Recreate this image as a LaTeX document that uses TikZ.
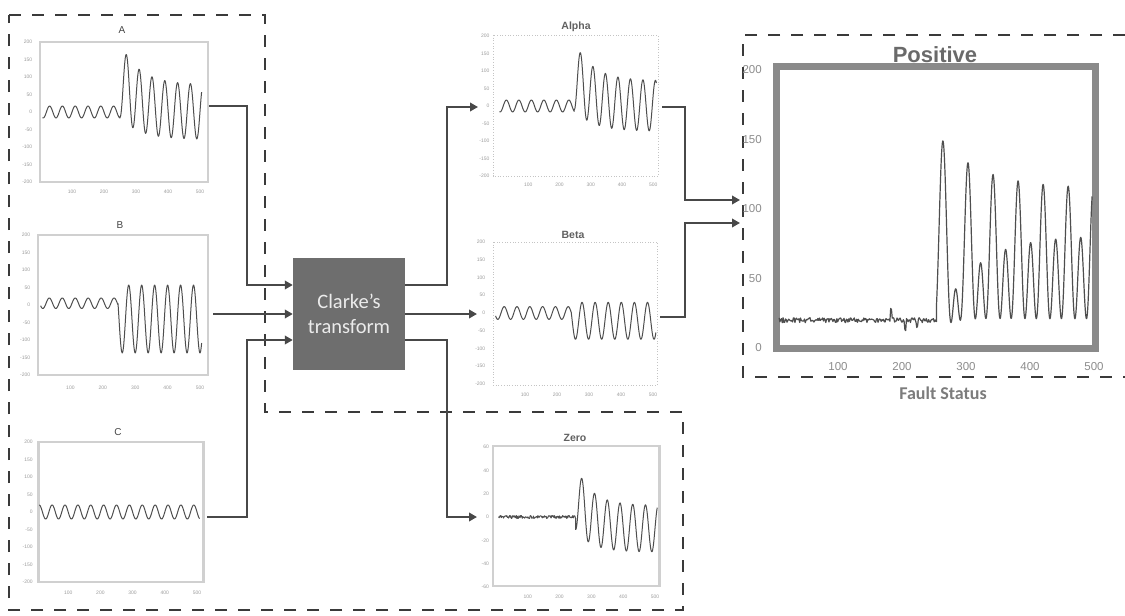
\documentclass[tikz,border=0pt]{standalone}
\usepackage{fontspec}
\setmainfont{Liberation Sans}
\newfontfamily\calib{Carlito}
\usetikzlibrary{arrows.meta}
\definecolor{dashc}{HTML}{3A3A3A}
\definecolor{arrc}{HTML}{484848}
\definecolor{sigc}{HTML}{4E4E4E}
\definecolor{framec}{HTML}{D0D0D0}
\definecolor{dframec}{HTML}{C4C4C4}
\definecolor{tickc}{HTML}{9C9C9C}
\definecolor{ttlc}{HTML}{454545}
\definecolor{clarkec}{HTML}{6E6E6E}
\definecolor{posframe}{HTML}{8A8A8A}
\definecolor{fsc}{HTML}{7C7C7C}
\begin{document}
\begin{tikzpicture}[x=1pt,y=-1pt,
  dashbox/.style={draw=dashc, line width=2.6pt, dash pattern=on 12pt off 11pt},
  arr/.style={draw=arrc, line width=2.6pt, -{Triangle[length=8pt,width=8.5pt]}},
  sig/.style={draw=sigc, line width=1pt, line join=round},
  lframe/.style={draw=framec, line width=2.6pt},
  dframe/.style={draw=dframec, line width=0.7pt, dotted},
  tick/.style={font=\fontsize{5}{6}\selectfont, text=tickc, inner sep=0.5pt},
  ptick/.style={font=\fontsize{11.5}{13}\selectfont, text=tickc!90!black, inner sep=0.5pt},
  ttl/.style={font=\fontsize{10}{12}\selectfont, text=ttlc, inner sep=0pt},
  bttl/.style={font=\bfseries\fontsize{10.5}{12}\selectfont, text=ttlc!85!white, inner sep=0pt},
  clarkebox/.style={fill=clarkec, draw=none, minimum width=112pt, minimum height=112pt,
    text=white!92!black, align=center, font=\calib\fontsize{20.5}{25}\selectfont}
]
\pgfmathsetseed{7}
\useasboundingbox (0,0) rectangle (1125,616);
\fill[white] (0,0) rectangle (1125,616);

% dashed regions
\draw[dashbox] (9,15) -- (265,15) -- (265,412) -- (683,412) -- (683,610) -- (9,610) -- cycle;
\draw[dashbox] (1125,35) -- (743,35) -- (743,377) -- (1125,377);

% ---------- Plot A ----------
\node[ttl] (tA) at (122,30) {A};
\begin{scope}[shift={(40,112)}, xscale=0.32, yscale=-0.35]
  \draw[lframe] (0,200) rectangle (525,-200);
  \foreach \v in {200,150,100,50,0,-50,-100,-150,-200}
    \node[tick, anchor=east] (ay\v) at (-22,\v) {\v};
  \foreach \t in {100,200,300,400,500}
    \node[tick] (ax\t) at (\t,-229) {\t};
  \draw[sig] plot[domain=8:250, samples=120] (\x,{-17*sin(9*\x)})
    -- plot[domain=250:505, samples=220] (\x,{(78+20*exp(-(\x-270)/60))*sin(9*(\x-260)) + 66*exp(-(\x-270)/60)});
\end{scope}

% ---------- Plot B ----------
\node[ttl] (tB) at (120,225) {B};
\begin{scope}[shift={(38,305)}, xscale=0.324, yscale=-0.35]
  \draw[lframe] (0,200) rectangle (525,-200);
  \foreach \v in {200,150,100,50,0,-50,-100,-150,-200}
    \node[tick, anchor=east] (by\v) at (-22,\v) {\v};
  \foreach \t in {100,200,300,400,500}
    \node[tick] (bx\t) at (\t,-237) {\t};
  \draw[sig] plot[domain=8:247, samples=120] (\x,{5+15*sin(9*\x+136)})
    -- plot[domain=247:505, samples=220] (\x,{-40+97*sin(9*(\x-270))});
\end{scope}

% ---------- Plot C ----------
\node[ttl] (tC) at (118,432) {C};
\begin{scope}[shift={(36,512)}, xscale=0.322, yscale=-0.35]
  \draw[lframe] (8,200) rectangle (520,-200);
  \foreach \v in {200,150,100,50,0,-50,-100,-150,-200}
    \node[tick, anchor=east] (cy\v) at (-8,\v) {\v};
  \foreach \t in {100,200,300,400,500}
    \node[tick] (cx\t) at (\t,-231) {\t};
  \draw[sig] plot[domain=10:508, samples=300] (\x,{20*sin(9*\x)});
\end{scope}

% ---------- Clarke ----------
\node[clarkebox] (clarke) at (349,314) {Clarke’s\\transform};

\coordinate (Aout) at (209,106);
\coordinate (Bout) at (213,314);
\coordinate (Cout) at (207,517);
\coordinate (bendA) at (247,285);
\coordinate (bendC) at (247,340);
\draw[arr] (Aout) -| (bendA) -- (bendA -| clarke.west);
\draw[arr] (Bout) -- (clarke.west);
\draw[arr] (Cout) -| (bendC) -- (bendC -| clarke.west);

\coordinate (o1) at (447,285);
\coordinate (o3) at (447,340);
\coordinate (alphaIn) at (478,107);
\coordinate (betaIn) at (477,314);
\coordinate (zeroIn) at (477,517);
\draw[arr] (clarke.east |- o1) -- (o1) |- (alphaIn);
\draw[arr] (clarke.east) -- (betaIn);
\draw[arr] (clarke.east |- o3) -- (o3) |- (zeroIn);

% ---------- Alpha ----------
\node[bttl] (tAlpha) at (576,27) {Alpha};
\begin{scope}[shift={(497,106)}, xscale=0.3125, yscale=-0.35]
  \draw[dframe] (-13,203) rectangle (515,-200);
  \foreach \v in {200,150,100,50,0,-50,-100,-150,-200}
    \node[tick, anchor=east] (aly\v) at (-22,\v) {\v};
  \foreach \t in {100,200,300,400,500}
    \node[tick] (alx\t) at (\t,-226) {\t};
  \draw[sig] plot[domain=8:247, samples=120] (\x,{-17*sin(9*\x)})
    -- plot[domain=247:510, samples=220] (\x,{(72+18*exp(-(\x-267)/60))*sin(9*(\x-257)) + 62*exp(-(\x-267)/60)});
\end{scope}

% ---------- Beta ----------
\node[bttl] (tBeta) at (573,235) {Beta};
\begin{scope}[shift={(493,313)}, xscale=0.32, yscale=-0.355]
  \draw[dframe] (0,200) rectangle (513,-203);
  \foreach \v in {200,150,100,50,0,-50,-100,-150,-200}
    \node[tick, anchor=east] (bey\v) at (-22,\v) {\v};
  \foreach \t in {100,200,300,400,500}
    \node[tick] (bex\t) at (\t,-231) {\t};
  \draw[sig] plot[domain=8:245, samples=120] (\x,{18*sin(9*\x+135)})
    -- plot[domain=245:509, samples=220] (\x,{-22+52*sin(8.8*(\x-268))});
\end{scope}

% ---------- Zero ----------
\node[bttl] (tZero) at (575,438) {Zero};
\begin{scope}[shift={(496,517)}, xscale=0.318, yscale=-1.167]
  \draw[lframe] (-10,61) rectangle (515,-59);
  \foreach \v in {60,40,20,0,-20,-40,-60}
    \node[tick, anchor=east] (zy\v) at (-20,\v) {\v};
  \foreach \t in {100,200,300,400,500}
    \node[tick] (zx\t) at (\t,-68.5) {\t};
  \draw[sig] plot[domain=8:250, samples=140] (\x,{1.3*rand})
    -- plot[domain=250:507, samples=220] (\x,{-10+(20+5*exp(-(\x-270)/50))*sin(9*(\x-260))+18*exp(-(\x-270)/50)});
\end{scope}

% ---------- Positive ----------
\node[font=\bfseries\fontsize{22}{24}\selectfont, text=ttlc!80!white, inner sep=0pt] (tPos) at (935,55) {Positive};
\begin{scope}[shift={(774,348)}, xscale=0.64, yscale=-1.39]
  \draw[draw=posframe, line width=6.5pt] (3.9,202.5) rectangle (502.3,-0.4);
  \foreach \v in {200,150,100,50,0}
    \node[ptick, anchor=east] (py\v) at (-18,\v) {\v};
  \foreach \t in {100,200,300,400,500}
    \node[ptick] (px\t) at (\t,-13) {\t};
  \draw[sig, line width=1.2pt] plot[domain=8:254, samples=200]
      (\x,{20+1.8*rand + (abs(\x-183)<1.3 ? 9 : 0) - (abs(\x-205)<1.3 ? 6 : 0) - (abs(\x-224)<1.3 ? 5 : 0)})
    -- plot[domain=254:497, samples=400]
      (\x,{60 + (17+44*exp(-(\x-264)/60))*cos(9.2*(\x-264)) + (38-10*exp(-(\x-264)/50))*cos(18.4*(\x-264))});
\end{scope}
\node[font=\calib\bfseries\fontsize{18}{20}\selectfont, text=fsc, inner sep=0pt] (tFS) at (943,393) {Fault Status};

\coordinate (alphaOut) at (662,107);
\coordinate (betaOut) at (660,317);
\coordinate (jx) at (685,0);
\coordinate (posIn1) at (740,200);
\coordinate (posIn2) at (740,223);
\draw[arr] (alphaOut) -| (jx |- posIn1) -- (posIn1);
\draw[arr] (betaOut) -| (jx |- posIn2) -- (posIn2);
\end{tikzpicture}
\end{document}
